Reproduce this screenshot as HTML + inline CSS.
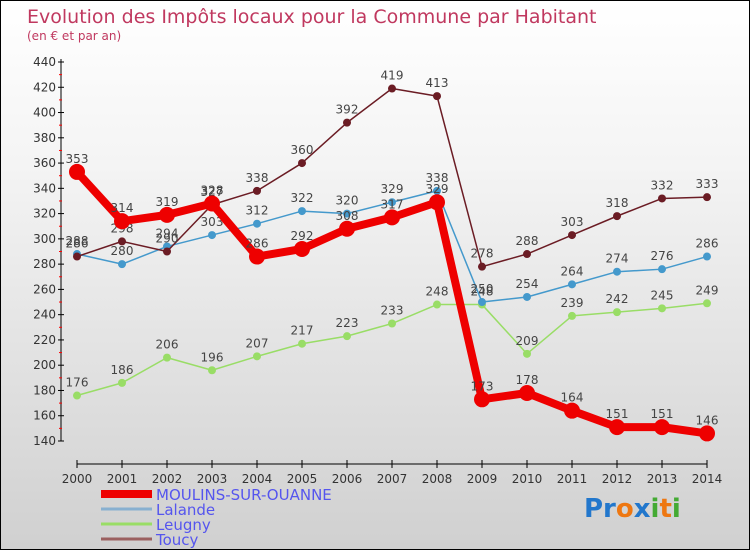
<!DOCTYPE html>
<html><head><meta charset="utf-8"><style>
body{margin:0;}
#c{width:748px;height:548px;border:1px solid #000;background:linear-gradient(#fff,#f4f4f4 30%,#d0d0d0);position:relative;font-family:"DejaVu Sans","Liberation Sans",sans-serif;overflow:hidden}
svg{position:absolute;left:0;top:0}
</style></head><body>
<div id="c">
<svg id="s" width="748" height="548">
<text x="26" y="22" font-size="19" fill="#c0385f">Evolution des Impôts locaux pour la Commune par Habitant</text>
<text x="26" y="39" font-size="12" fill="#c0385f">(en € et par an)</text>
</svg>
</div>
<script>
const years=[2000,2001,2002,2003,2004,2005,2006,2007,2008,2009,2010,2011,2012,2013,2014];
const moulins=[353,314,319,328,286,292,308,317,329,173,178,164,151,151,146];
const lalande=[288,280,294,303,312,322,320,329,338,250,254,264,274,276,286];
const leugny=[176,186,206,196,207,217,223,233,248,248,209,239,242,245,249];
const toucy=[286,298,290,327,338,360,392,419,413,278,288,303,318,332,333];
const yTicks=[140,160,180,200,220,240,260,280,300,320,340,360,380,400,420,440];
const NS="http://www.w3.org/2000/svg";
const s=document.getElementById('s');
const X=i=>76+i*45, Y=v=>440-(v-140)/300*379;
function el(t,a,p){const e=document.createElementNS(NS,t);for(const k in a)e.setAttribute(k,a[k]);(p||s).appendChild(e);return e;}
// axes
let a=el('line',{x1:60,y1:58,x2:60,y2:440,stroke:'#000','stroke-width':1});


a=el('line',{x1:76,y1:463,x2:706,y2:463,stroke:'#000','stroke-width':1});


yTicks.forEach((v,i)=>{
  el('line',{x1:57,y1:Y(v),x2:63,y2:Y(v),stroke:'#000'});
  if(i<yTicks.length-1){el('line',{x1:58,y1:Y(v+10),x2:61,y2:Y(v+10),stroke:'#f00'});}
  const t=el('text',{x:55,y:Y(v)+4,'font-size':12,fill:'#333','text-anchor':'end'});
  t.textContent=v;
  
  
});
years.forEach((yr,i)=>{
  el('line',{x1:X(i),y1:459,x2:X(i),y2:467,stroke:'#000'});
  const t=el('text',{x:X(i),y:482,'font-size':12,fill:'#333','text-anchor':'middle'});
  t.textContent=yr;
  
  
});
function series(data,color,w,r,name){
  const g=el('g',{});
  
  
  el('polyline',{points:data.map((v,i)=>X(i)+','+Y(v)).join(' '),fill:'none',stroke:color,'stroke-width':w,'stroke-linejoin':'round'},g);
  data.forEach((v,i)=>{
    const c=el('circle',{cx:X(i),cy:Y(v),r:r,fill:color},g);
    
    
    const t=el('text',{x:X(i),y:Y(v)-9,'font-size':12,fill:'#444','text-anchor':'middle'},g);
    t.textContent=v;
    
    
  });
}
series(leugny,'#99dd66',1.5,4,'leugny');
series(lalande,'#4499cc',1.5,4,'lalande');
series(toucy,'#6b1c24',1.5,4,'toucy');
series(moulins,'#ee0000',8,8,'moulins');
// legend
const leg=[['MOULINS-SUR-OUANNE','#ee0000',8],['Lalande','#88b0d0',3],['Leugny','#99dd66',3],['Toucy','#9b6060',3]];
leg.forEach((l,i)=>{
  const y=493+i*15;
  const g=el('g',{});
  
  
  el('line',{x1:100,y1:y,x2:151,y2:y,stroke:l[1],'stroke-width':l[2]},g);
  const t=el('text',{x:155,y:y+6,'font-size':15,fill:'#5555ee'},g);
  t.textContent=l[0];
});
const p=el('text',{x:583,y:516,'font-size':26,'font-weight':'bold'});


[['Pr','#2277cc'],['o','#ee7711'],['x','#2277cc'],['i','#44aa33'],['t','#ee7711'],['i','#44aa33']].forEach(q=>{const ts=el('tspan',{fill:q[1]},p);ts.textContent=q[0];});
</script>
</body></html>
